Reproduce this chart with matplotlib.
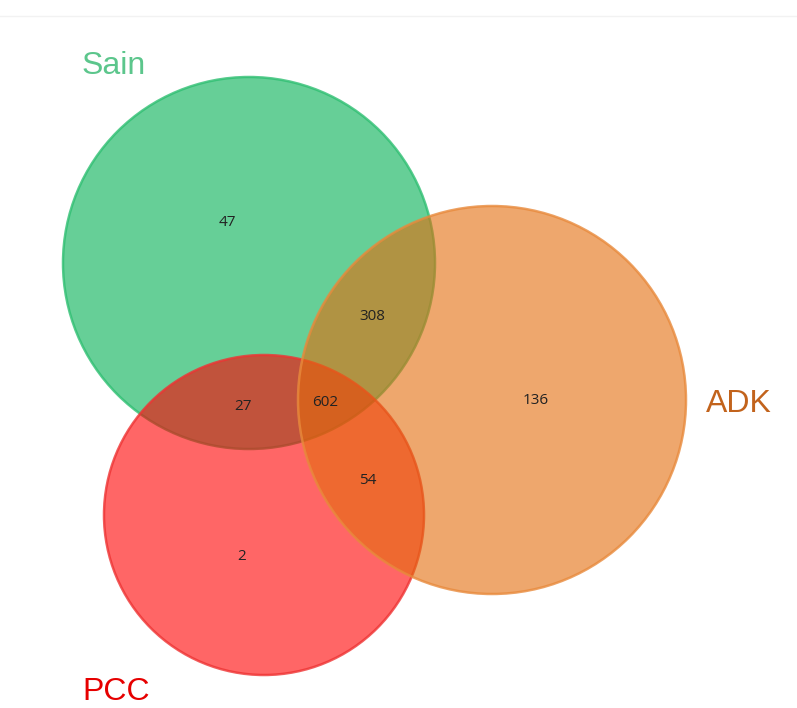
import matplotlib.pyplot as plt
from matplotlib.patches import Circle

# set names and region counts
set_names = ["Sain", "ADK", "PCC"]
region_labels = ["Sain only", "Sain&ADK", "Sain&PCC", "all", "ADK only", "ADK&PCC", "PCC only"]
region_counts = [47, 308, 27, 602, 136, 54, 2]

# layout (pixel space, y down)
circle_centers = [(249, 263), (492, 400), (264, 515)]
circle_radii = [186, 194, 160]
fill_colors = ["#00af52", "#e36c0c", "#ff0000"]
edge_colors = ["#2fbf72", "#e88a3c", "#ee3333"]
label_colors = ["#5cc68c", "#c2631c", "#e60000"]
label_pos = [(82, 66), (706, 404), (82, 692)]
count_pos = [(227, 223), (372, 316), (243, 406), (325, 402), (536, 401), (368, 480), (242, 557)]

fig = plt.figure(figsize=(7.97, 7.08), dpi=100)
ax = fig.add_axes([0, 0, 1, 1])
ax.set_xlim(0, 797)
ax.set_ylim(708, 0)
ax.set_aspect("equal")
ax.axis("off")

# faint frame line near the top, as in the source
ax.axhline(16, color="#f2f2f2", lw=1)

# draw order: Sain, PCC, ADK (ADK on top)
for i in [0, 2, 1]:
    ax.add_patch(Circle(circle_centers[i], circle_radii[i], facecolor=fill_colors[i],
                        alpha=0.6, edgecolor="none"))
    ax.add_patch(Circle(circle_centers[i], circle_radii[i], facecolor="none",
                        edgecolor=edge_colors[i], lw=1.8, alpha=0.8))

for name, (x, y), c in zip(set_names, label_pos, label_colors):
    ax.text(x, y, name, color=c, fontsize=23, family="Liberation Sans",
            ha="left", va="center")

for n, (x, y) in zip(region_counts, count_pos):
    ax.text(x, y, str(n), color="#222222", fontsize=11, family="Open Sans",
            ha="center", va="center")

fig.savefig("out.png", dpi=100)
